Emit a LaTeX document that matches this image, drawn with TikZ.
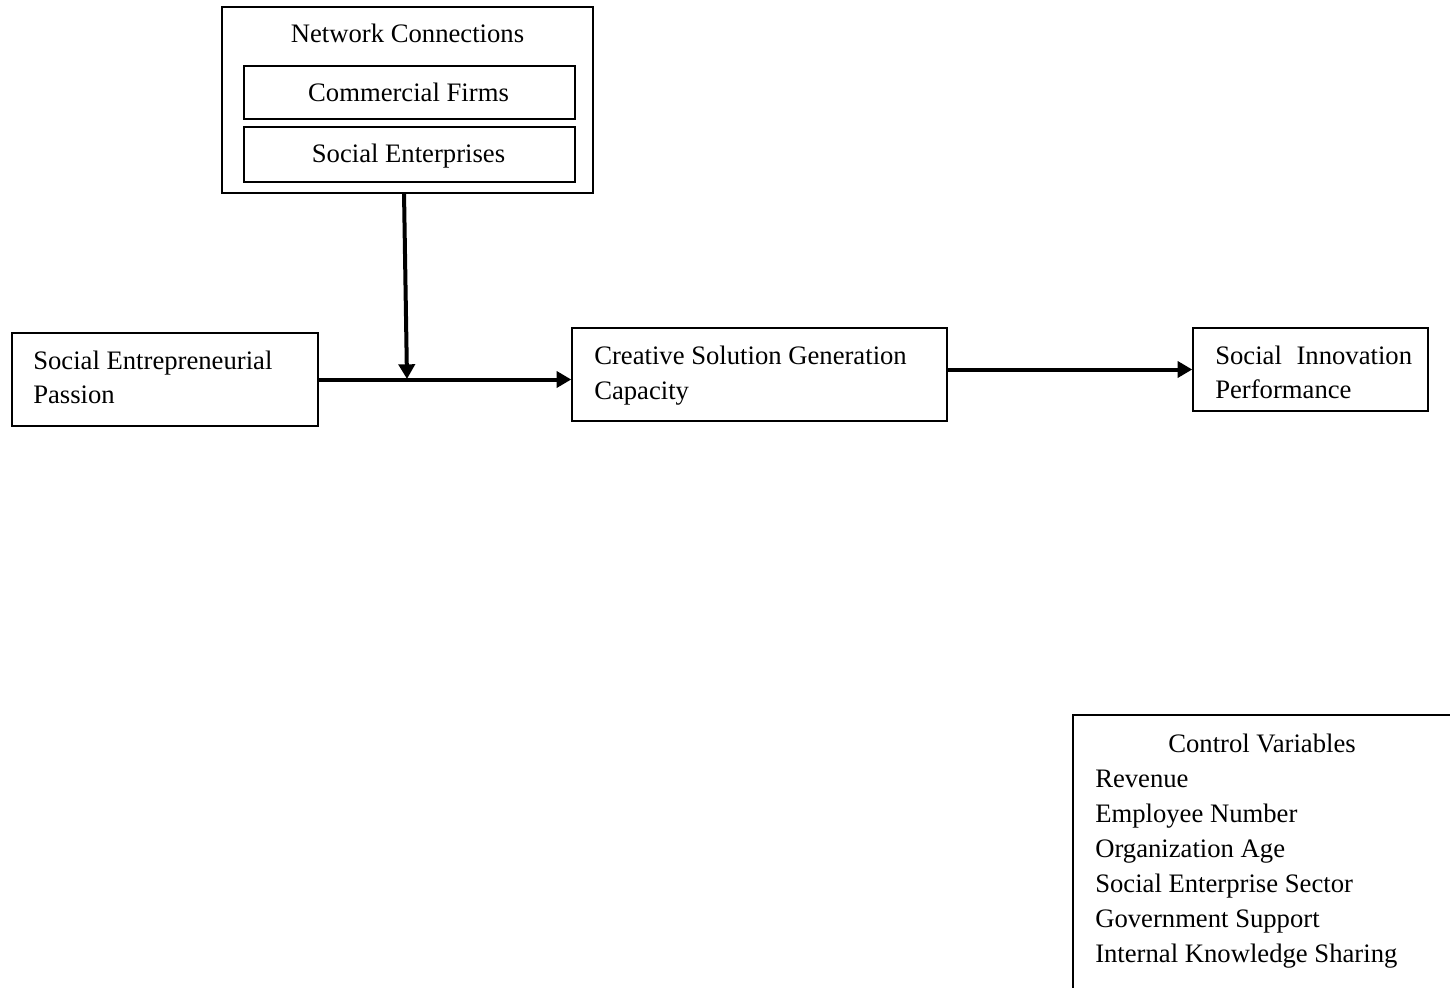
\documentclass[tikz,border=0pt]{standalone}
\usepackage{fontspec}
\setmainfont{Liberation Serif}
\usetikzlibrary{arrows.meta,fit}
\begin{document}
\begin{tikzpicture}[x=0.75pt,y=-0.75pt,
  box/.style={draw, line width=1.1pt, inner sep=0pt},
  txt/.style={inner sep=0pt, font=\fontsize{20}{26.25}\selectfont},
  arr/.style={line width=3pt, -{Triangle[length=11pt,width=12pt]}}]
\useasboundingbox (0,0) rectangle (1450,988);
\clip (0,0) rectangle (1450,988);
\fill[white] (0,0) rectangle (1450,988);
% boxes
\node[box, fit={(222,7) (593,193)}] (nc) {};
\node[box, fit={(244,66) (575,119)}] (cf) {};
\node[box, fit={(244,127) (575,182)}] (se) {};
\node[box, fit={(12,333) (318,426)}] (sep) {};
\node[box, fit={(572,328) (947,421)}] (csg) {};
\node[box, fit={(1193,328) (1428,411)}] (sip) {};
\node[box, fit={(1073,715) (1470,1010)}] (cv) {};
% texts
\node[txt, anchor=base] (tnc) at (407.5,43) {Network Connections};
\node[txt, anchor=base] (tcf) at (408.5,102) {Commercial Firms};
\node[txt, anchor=base] (tse) at (408.5,163) {Social Enterprises};
\node[txt, anchor=base west] (tsep1) at (33,369) {Social Entrepreneurial};
\node[txt, anchor=base west] (tsep2) at (33,403) {Passion};
\node[txt, anchor=base west] (tcsg1) at (594,364) {Creative Solution Generation};
\node[txt, anchor=base west] (tcsg2) at (594,399) {Capacity};
\node[txt, anchor=base west] (tsip1) at (1215,364) {Social\hspace{0.55em}Innovation};
\node[txt, anchor=base west] (tsip2) at (1215,398) {Performance};
\node[txt, anchor=base] (tcv) at (1262,752) {Control Variables};
\node[txt, anchor=base west] (cv1) at (1095,787) {Revenue};
\node[txt, anchor=base west] (cv2) at (1095,822) {Employee Number};
\node[txt, anchor=base west] (cv3) at (1095,857) {Organization Age};
\node[txt, anchor=base west] (cv4) at (1095,892) {Social Enterprise Sector};
\node[txt, anchor=base west] (cv5) at (1095,927) {Government Support};
\node[txt, anchor=base west] (cv6) at (1095,962) {Internal Knowledge Sharing};
% connectors
\coordinate (j) at (407,379);
\draw[arr] ([xshift=-2.6pt]nc.south) -- (j);
\draw[arr] (sep.east) -- (sep.east -| csg.west);
\draw[arr] (csg.east |- sip.west) -- (sip.west);
\end{tikzpicture}
\end{document}
